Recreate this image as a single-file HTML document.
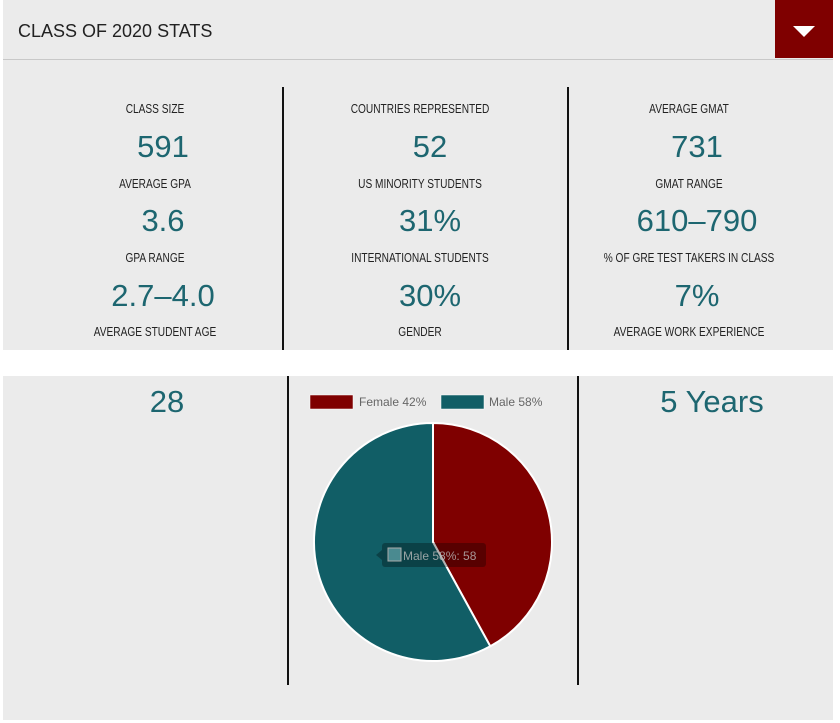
<!DOCTYPE html>
<html><head><meta charset="utf-8"><style>
body{margin:0;width:840px;height:723px;background:#fff;position:relative;overflow:hidden;font-family:"Liberation Sans",sans-serif}
.p{position:absolute;background:#ebebeb}
.t{position:absolute;white-space:nowrap;transform:translateX(-50%)}
.l{font-size:13px;color:#222;transform:translateX(-50%) scaleX(0.78);}
.v{font-size:31px;color:#1d6670;line-height:1}
.d{position:absolute;width:2px;background:#111}
</style></head><body>
<div class="p" style="left:3px;top:0;width:830px;height:350px"></div>
<div style="position:absolute;left:3px;top:59px;width:830px;height:1px;background:#c8c8c8"></div>
<div style="position:absolute;left:18px;top:21px;font-size:18px;color:#222">CLASS OF 2020 STATS</div>
<div style="position:absolute;left:775px;top:0;width:58px;height:58px;background:#7f0000"></div>
<div style="position:absolute;left:793px;top:26px;width:0;height:0;border-left:11px solid transparent;border-right:11px solid transparent;border-top:11px solid #fff"></div>
<div class="d" style="left:282px;top:87px;height:263px"></div>
<div class="d" style="left:567px;top:87px;height:263px"></div>

<div class="t l" style="left:155px;top:101px">CLASS SIZE</div>
<div class="t v" style="left:163px;top:131px">591</div>
<div class="t l" style="left:155px;top:176px">AVERAGE GPA</div>
<div class="t v" style="left:163px;top:205px">3.6</div>
<div class="t l" style="left:155px;top:250px">GPA RANGE</div>
<div class="t v" style="left:163px;top:280px">2.7–4.0</div>
<div class="t l" style="left:155px;top:324px">AVERAGE STUDENT AGE</div>

<div class="t l" style="left:420px;top:101px">COUNTRIES REPRESENTED</div>
<div class="t v" style="left:430px;top:131px">52</div>
<div class="t l" style="left:420px;top:176px">US MINORITY STUDENTS</div>
<div class="t v" style="left:430px;top:205px">31%</div>
<div class="t l" style="left:420px;top:250px">INTERNATIONAL STUDENTS</div>
<div class="t v" style="left:430px;top:280px">30%</div>
<div class="t l" style="left:420px;top:324px">GENDER</div>

<div class="t l" style="left:689px;top:101px">AVERAGE GMAT</div>
<div class="t v" style="left:697px;top:131px">731</div>
<div class="t l" style="left:689px;top:176px">GMAT RANGE</div>
<div class="t v" style="left:697px;top:205px">610–790</div>
<div class="t l" style="left:689px;top:250px">% OF GRE TEST TAKERS IN CLASS</div>
<div class="t v" style="left:697px;top:280px">7%</div>
<div class="t l" style="left:689px;top:324px">AVERAGE WORK EXPERIENCE</div>

<div class="p" style="left:3px;top:376px;width:830px;height:344px"></div>
<div class="d" style="left:287px;top:376px;height:309px"></div>
<div class="d" style="left:577px;top:376px;height:309px"></div>
<div class="t v" style="left:167px;top:386px">28</div>
<div class="t v" style="left:712px;top:386px">5 Years</div>

<svg style="position:absolute;left:0;top:0" width="840" height="723">
<rect x="310" y="395" width="43" height="14" fill="#7f0000" stroke="#fff" stroke-width="0.5"/>
<text x="359" y="406" font-family="Liberation Sans" font-size="12" fill="#666">Female 42%</text>
<rect x="441" y="395" width="43" height="14" fill="#115e66" stroke="#fff" stroke-width="0.5"/>
<text x="489" y="406" font-family="Liberation Sans" font-size="12" fill="#666">Male 58%</text>
<path d="M433,542 L433,423 A119,119 0 0 1 490.3,646.3 Z" fill="#7f0000" stroke="#fff" stroke-width="2"/>
<path d="M433,542 L490.3,646.3 A119,119 0 1 1 433,423 Z" fill="#115e66" stroke="#fff" stroke-width="2"/>
<rect x="382" y="543" width="104" height="24" rx="3" fill="#000" fill-opacity="0.3"/>
<path d="M382,550 L376,555 L382,560 Z" fill="#000" fill-opacity="0.3"/>
<rect x="388" y="548" width="13" height="13" fill="#4a8a90" stroke="#aaa" stroke-width="1"/>
<text x="403" y="560" font-family="Liberation Sans" font-size="12" fill="#bbb" fill-opacity="0.8">Male 58%: 58</text>
</svg>
</body></html>
